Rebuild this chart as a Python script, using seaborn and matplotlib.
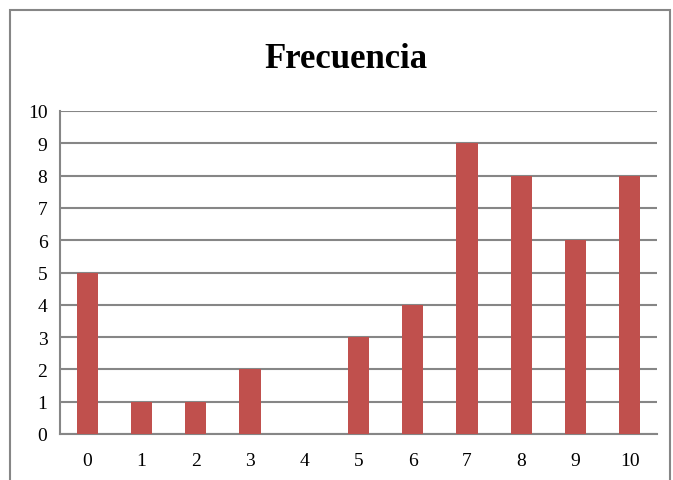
import pandas as pd
import matplotlib.pyplot as plt
import seaborn as sns
import numpy as np
from matplotlib.patches import Rectangle

# Data
categorias = ["0", "1", "2", "3", "4", "5", "6", "7", "8", "9", "10"]
frecuencia = [5, 1, 1, 2, 0, 3, 4, 9, 8, 6, 8]
y_ticks = list(range(0, 11))

df = pd.DataFrame({"valor": categorias, "frecuencia": frecuencia})

sns.set_style("white")
plt.rcParams["font.family"] = ["Liberation Serif", "DejaVu Serif"]
plt.rcParams["text.color"] = "black"
plt.rcParams["xtick.color"] = "black"
plt.rcParams["ytick.color"] = "black"

gris = "#868686"
rojo = "#C0504D"

fig = plt.figure(figsize=(6.73, 4.81), dpi=100)
ax = fig.add_axes([60 / 673, 1 - 435 / 481, (657 - 60) / 673, (435 - 112) / 481])

sns.barplot(data=df, x="valor", y="frecuencia", order=categorias,
            color=rojo, saturation=1, width=0.39, ax=ax, zorder=3,
            edgecolor="none", linewidth=0)

ax.set_ylim(0, 10)
ax.set_xlim(-0.5, len(categorias) - 0.5)
ax.set_yticks(y_ticks)
ax.set_yticklabels([str(t) for t in y_ticks], fontsize=14)
ax.set_xticklabels(categorias, fontsize=14)
ax.yaxis.grid(True, color=gris, linewidth=1.5, zorder=0)
ax.set_axisbelow(True)

# Excel-style ticks on category boundaries
ax.set_xticks(np.arange(-0.5, len(categorias)), minor=True)
ax.tick_params(axis="x", which="major", length=0, pad=13, labelcolor="black")
ax.tick_params(axis="x", which="minor", length=6, width=1.2, color=gris, direction="out")
ax.tick_params(axis="y", which="major", length=5, width=1.2, color=gris, direction="out",
               pad=4, labelcolor="black")

for side in ["top", "right"]:
    ax.spines[side].set_visible(False)
for side in ["left", "bottom"]:
    ax.spines[side].set_color(gris)
    ax.spines[side].set_linewidth(1.5)

ax.set_xlabel("")
ax.set_ylabel("")

fig.text(346 / 673, 1 - 60 / 481, "Frecuencia", ha="center", va="center",
         fontsize=25, fontweight="bold", color="black")

# chart frame
fig.patches.append(Rectangle((10 / 673, -0.1), (670 - 10) / 673, 1.1 - 11 / 481,
                             transform=fig.transFigure, fill=False,
                             edgecolor=gris, linewidth=1.5))

fig.savefig("out.png", dpi=100)
